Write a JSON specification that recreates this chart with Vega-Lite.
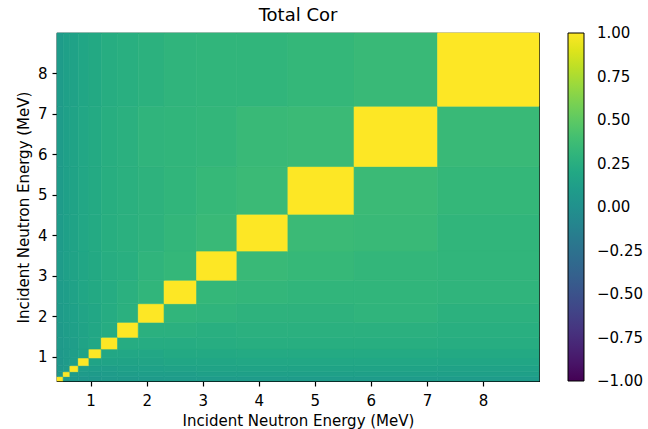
{
"$schema": "https://vega.github.io/schema/vega-lite/v6.json",
"width": 482, "height": 348,
"autosize": {"type": "none"},
"padding": {"left": 57, "top": 33, "right": 109, "bottom": 48},
"background": "white",
"title": {"text": "Total Cor", "fontSize": 18, "font": "DejaVu Sans", "fontWeight": "normal", "offset": 8, "anchor": "middle", "color": "black"},
"datasets": {
"edges": [
{"k":0,"lo":0.40,"hi":0.51},{"k":1,"lo":0.51,"hi":0.63},{"k":2,"lo":0.63,"hi":0.78},{"k":3,"lo":0.78,"hi":0.97},
{"k":4,"lo":0.97,"hi":1.19},{"k":5,"lo":1.19,"hi":1.48},{"k":6,"lo":1.48,"hi":1.85},{"k":7,"lo":1.85,"hi":2.31},
{"k":8,"lo":2.31,"hi":2.89},{"k":9,"lo":2.89,"hi":3.61},{"k":10,"lo":3.61,"hi":4.52},{"k":11,"lo":4.52,"hi":5.70},
{"k":12,"lo":5.70,"hi":7.19},{"k":13,"lo":7.19,"hi":9.00}
]
},
"data": {"values": [
{"i":0,"j":0,"v":1},{"i":1,"j":0,"v":0.07},{"i":2,"j":0,"v":0.07},{"i":3,"j":0,"v":0.06},{"i":4,"j":0,"v":0.07},{"i":5,"j":0,"v":0.08},{"i":6,"j":0,"v":0.08},{"i":7,"j":0,"v":0.09},{"i":8,"j":0,"v":0.10},{"i":9,"j":0,"v":0.10},{"i":10,"j":0,"v":0.10},{"i":11,"j":0,"v":0.10},{"i":12,"j":0,"v":0.10},{"i":13,"j":0,"v":0.10},
{"i":0,"j":1,"v":0.07},{"i":1,"j":1,"v":1},{"i":2,"j":1,"v":0.09},{"i":3,"j":1,"v":0.09},{"i":4,"j":1,"v":0.09},{"i":5,"j":1,"v":0.10},{"i":6,"j":1,"v":0.11},{"i":7,"j":1,"v":0.12},{"i":8,"j":1,"v":0.12},{"i":9,"j":1,"v":0.13},{"i":10,"j":1,"v":0.13},{"i":11,"j":1,"v":0.13},{"i":12,"j":1,"v":0.13},{"i":13,"j":1,"v":0.13},
{"i":0,"j":2,"v":0.07},{"i":1,"j":2,"v":0.09},{"i":2,"j":2,"v":1},{"i":3,"j":2,"v":0.12},{"i":4,"j":2,"v":0.12},{"i":5,"j":2,"v":0.12},{"i":6,"j":2,"v":0.13},{"i":7,"j":2,"v":0.14},{"i":8,"j":2,"v":0.15},{"i":9,"j":2,"v":0.16},{"i":10,"j":2,"v":0.16},{"i":11,"j":2,"v":0.16},{"i":12,"j":2,"v":0.16},{"i":13,"j":2,"v":0.15},
{"i":0,"j":3,"v":0.06},{"i":1,"j":3,"v":0.09},{"i":2,"j":3,"v":0.12},{"i":3,"j":3,"v":1},{"i":4,"j":3,"v":0.16},{"i":5,"j":3,"v":0.16},{"i":6,"j":3,"v":0.16},{"i":7,"j":3,"v":0.17},{"i":8,"j":3,"v":0.18},{"i":9,"j":3,"v":0.18},{"i":10,"j":3,"v":0.19},{"i":11,"j":3,"v":0.19},{"i":12,"j":3,"v":0.19},{"i":13,"j":3,"v":0.18},
{"i":0,"j":4,"v":0.07},{"i":1,"j":4,"v":0.09},{"i":2,"j":4,"v":0.12},{"i":3,"j":4,"v":0.16},{"i":4,"j":4,"v":1},{"i":5,"j":4,"v":0.19},{"i":6,"j":4,"v":0.19},{"i":7,"j":4,"v":0.19},{"i":8,"j":4,"v":0.21},{"i":9,"j":4,"v":0.21},{"i":10,"j":4,"v":0.22},{"i":11,"j":4,"v":0.22},{"i":12,"j":4,"v":0.22},{"i":13,"j":4,"v":0.21},
{"i":0,"j":5,"v":0.08},{"i":1,"j":5,"v":0.10},{"i":2,"j":5,"v":0.12},{"i":3,"j":5,"v":0.16},{"i":4,"j":5,"v":0.19},{"i":5,"j":5,"v":1},{"i":6,"j":5,"v":0.23},{"i":7,"j":5,"v":0.23},{"i":8,"j":5,"v":0.23},{"i":9,"j":5,"v":0.24},{"i":10,"j":5,"v":0.25},{"i":11,"j":5,"v":0.25},{"i":12,"j":5,"v":0.25},{"i":13,"j":5,"v":0.24},
{"i":0,"j":6,"v":0.08},{"i":1,"j":6,"v":0.11},{"i":2,"j":6,"v":0.13},{"i":3,"j":6,"v":0.16},{"i":4,"j":6,"v":0.19},{"i":5,"j":6,"v":0.23},{"i":6,"j":6,"v":1},{"i":7,"j":6,"v":0.27},{"i":8,"j":6,"v":0.27},{"i":9,"j":6,"v":0.26},{"i":10,"j":6,"v":0.27},{"i":11,"j":6,"v":0.27},{"i":12,"j":6,"v":0.27},{"i":13,"j":6,"v":0.26},
{"i":0,"j":7,"v":0.09},{"i":1,"j":7,"v":0.12},{"i":2,"j":7,"v":0.14},{"i":3,"j":7,"v":0.17},{"i":4,"j":7,"v":0.19},{"i":5,"j":7,"v":0.23},{"i":6,"j":7,"v":0.27},{"i":7,"j":7,"v":1},{"i":8,"j":7,"v":0.31},{"i":9,"j":7,"v":0.30},{"i":10,"j":7,"v":0.29},{"i":11,"j":7,"v":0.29},{"i":12,"j":7,"v":0.30},{"i":13,"j":7,"v":0.28},
{"i":0,"j":8,"v":0.10},{"i":1,"j":8,"v":0.12},{"i":2,"j":8,"v":0.15},{"i":3,"j":8,"v":0.18},{"i":4,"j":8,"v":0.21},{"i":5,"j":8,"v":0.23},{"i":6,"j":8,"v":0.27},{"i":7,"j":8,"v":0.31},{"i":8,"j":8,"v":1},{"i":9,"j":8,"v":0.33},{"i":10,"j":8,"v":0.32},{"i":11,"j":8,"v":0.31},{"i":12,"j":8,"v":0.31},{"i":13,"j":8,"v":0.30},
{"i":0,"j":9,"v":0.10},{"i":1,"j":9,"v":0.13},{"i":2,"j":9,"v":0.16},{"i":3,"j":9,"v":0.18},{"i":4,"j":9,"v":0.21},{"i":5,"j":9,"v":0.24},{"i":6,"j":9,"v":0.26},{"i":7,"j":9,"v":0.30},{"i":8,"j":9,"v":0.33},{"i":9,"j":9,"v":1},{"i":10,"j":9,"v":0.35},{"i":11,"j":9,"v":0.34},{"i":12,"j":9,"v":0.32},{"i":13,"j":9,"v":0.31},
{"i":0,"j":10,"v":0.10},{"i":1,"j":10,"v":0.13},{"i":2,"j":10,"v":0.16},{"i":3,"j":10,"v":0.19},{"i":4,"j":10,"v":0.22},{"i":5,"j":10,"v":0.25},{"i":6,"j":10,"v":0.27},{"i":7,"j":10,"v":0.29},{"i":8,"j":10,"v":0.32},{"i":9,"j":10,"v":0.35},{"i":10,"j":10,"v":1},{"i":11,"j":10,"v":0.36},{"i":12,"j":10,"v":0.35},{"i":13,"j":10,"v":0.31},
{"i":0,"j":11,"v":0.10},{"i":1,"j":11,"v":0.13},{"i":2,"j":11,"v":0.16},{"i":3,"j":11,"v":0.19},{"i":4,"j":11,"v":0.22},{"i":5,"j":11,"v":0.25},{"i":6,"j":11,"v":0.27},{"i":7,"j":11,"v":0.29},{"i":8,"j":11,"v":0.31},{"i":9,"j":11,"v":0.34},{"i":10,"j":11,"v":0.36},{"i":11,"j":11,"v":1},{"i":12,"j":11,"v":0.36},{"i":13,"j":11,"v":0.33},
{"i":0,"j":12,"v":0.10},{"i":1,"j":12,"v":0.13},{"i":2,"j":12,"v":0.16},{"i":3,"j":12,"v":0.19},{"i":4,"j":12,"v":0.22},{"i":5,"j":12,"v":0.25},{"i":6,"j":12,"v":0.27},{"i":7,"j":12,"v":0.30},{"i":8,"j":12,"v":0.31},{"i":9,"j":12,"v":0.32},{"i":10,"j":12,"v":0.35},{"i":11,"j":12,"v":0.36},{"i":12,"j":12,"v":1},{"i":13,"j":12,"v":0.35},
{"i":0,"j":13,"v":0.10},{"i":1,"j":13,"v":0.13},{"i":2,"j":13,"v":0.15},{"i":3,"j":13,"v":0.18},{"i":4,"j":13,"v":0.21},{"i":5,"j":13,"v":0.24},{"i":6,"j":13,"v":0.26},{"i":7,"j":13,"v":0.28},{"i":8,"j":13,"v":0.30},{"i":9,"j":13,"v":0.31},{"i":10,"j":13,"v":0.31},{"i":11,"j":13,"v":0.33},{"i":12,"j":13,"v":0.35},{"i":13,"j":13,"v":1}
]},
"transform": [
{"lookup": "i", "from": {"data": {"name": "edges"}, "key": "k", "fields": ["lo", "hi"]}, "as": ["xlo", "xhi"]},
{"lookup": "j", "from": {"data": {"name": "edges"}, "key": "k", "fields": ["lo", "hi"]}, "as": ["ylo", "yhi"]}
],
"mark": {"type": "rect", "strokeWidth": 0.6, "stroke": {"expr": "scale('color', datum.v)"}},
"encoding": {
"x": {"field": "xlo", "type": "quantitative", "scale": {"domain": [0.4, 9.0], "nice": false, "zero": false},
  "axis": {"title": "Incident Neutron Energy (MeV)", "values": [1,2,3,4,5,6,7,8], "format": "d", "labelPadding": 7, "titlePadding": 5}},
"x2": {"field": "xhi"},
"y": {"field": "ylo", "type": "quantitative", "scale": {"domain": [0.4, 9.0], "nice": false, "zero": false},
  "axis": {"title": "Incident Neutron Energy (MeV)", "values": [1,2,3,4,5,6,7,8], "format": "d", "labelPadding": 5, "titlePadding": 6}},
"y2": {"field": "yhi"},
"color": {"field": "v", "type": "quantitative", "scale": {"scheme": "viridis", "domain": [-1, 1]},
  "legend": {"type": "gradient", "title": null, "orient": "right", "offset": 29, "padding": 0, "gradientLength": 348, "gradientThickness": 16,
    "values": [-1, -0.75, -0.5, -0.25, 0, 0.25, 0.5, 0.75, 1], "format": ".2f", "labelOverlap": false,
    "labelFontSize": 15, "labelFont": "DejaVu Sans", "labelColor": "black", "labelBaseline": "middle", "labelOffset": 13,
    "gradientStrokeColor": "black", "gradientStrokeWidth": 1,
    "encode": {"labels": {"update": {"baseline": {"value": "middle"}}}}}}
},
"config": {
"view": {"stroke": "black", "strokeWidth": 1.2},
"axis": {"labelFont": "DejaVu Sans", "labelFontSize": 15, "titleFont": "DejaVu Sans", "titleFontSize": 15, "titleFontWeight": "normal",
  "labelColor": "black", "titleColor": "black", "tickColor": "black", "domainColor": "black", "tickSize": 5, "grid": false, "domainWidth": 1.2, "tickWidth": 1.2}
}
}
